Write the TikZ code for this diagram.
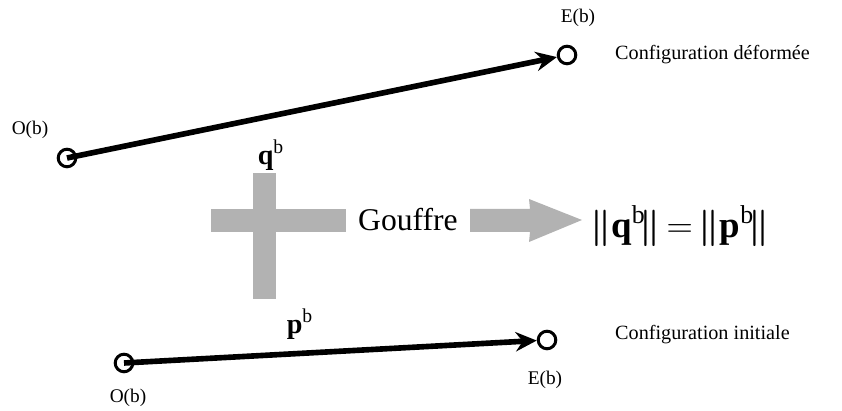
\documentclass[tikz,border=0pt]{standalone}
\usepackage{fontspec}
\setmainfont{Liberation Serif}
\usepackage{amsmath}
\usetikzlibrary{arrows.meta, positioning}

\begin{document}
\begin{tikzpicture}[x=0.02cm, y=-0.02cm,
    endpt/.style={circle, draw, line width=1.7pt, minimum size=10pt, inner sep=0pt},
    vec/.style={line width=3.2pt, -{Stealth[length=12pt, width=11pt, inset=4pt]}},
    shade/.style={fill=black!30, draw=none},
    lbl/.style={font=\fontsize{11}{12}\selectfont, inner sep=1pt}]
        \useasboundingbox (0,0) rectangle (842,411);

        % end points of the bar
        \node[endpt] (o1) at (67,158) {};
        \node[endpt] (e1) at (567,55) {};
        \node[endpt] (o2) at (124,363) {};
        \node[endpt] (e2) at (547,340) {};

        % vectors
        \draw[vec] (o1.center) -- (e1);
        \draw[vec] (o2.center) -- (e2);

        % point labels
        \foreach \n/\x/\y in {lo1/30/130, le1/578/18, lo2/128/398, le2/545/380}
            \node[lbl] (\n) at (\x,\y) {};
        \node[lbl] at (lo1) {O(b)};
        \node[lbl] at (le1) {E(b)};
        \node[lbl] at (lo2) {O(b)};
        \node[lbl] at (le2) {E(b)};

        % configuration names
        \node[anchor=west, font=\fontsize{11.5}{13}\selectfont] (cdef) at (609,55) {Configuration déformée};
        \node[anchor=west, font=\fontsize{11.5}{13}\selectfont] (cini) at (609,335) {Configuration initiale};

        % vector names
        \node[font=\fontsize{16}{18}\selectfont] (qb) at (271,155) {$\mathbf{q}^{\mathrm{b}}$};
        \node[font=\fontsize{16}{18}\selectfont] (pb) at (300,324) {$\mathbf{p}^{\mathrm{b}}$};

        % grey cross
        \fill[shade] (253,173) rectangle (276,299);
        \fill[shade] (211,209) rectangle (346,232);

        \node[font=\fontsize{18}{20}\selectfont] (gouf) at (408,220) {Gouffre};

        % grey arrow
        \fill[shade] (470,209) -- (530,209) -- (529,199) -- (582,220) -- (529,242) -- (530,232) -- (470,232) -- cycle;

        % result
        \node[font=\fontsize{21}{24}\selectfont, anchor=west, inner sep=0pt] (eq) at (590,226)
            {$\boldsymbol{\|}\mathbf{q}^{\mathrm{b}}\!\boldsymbol{\|}\,{=}\,\boldsymbol{\|}\mathbf{p}^{\mathrm{b}}\!\boldsymbol{\|}$};

    \end{tikzpicture}
\end{document}
